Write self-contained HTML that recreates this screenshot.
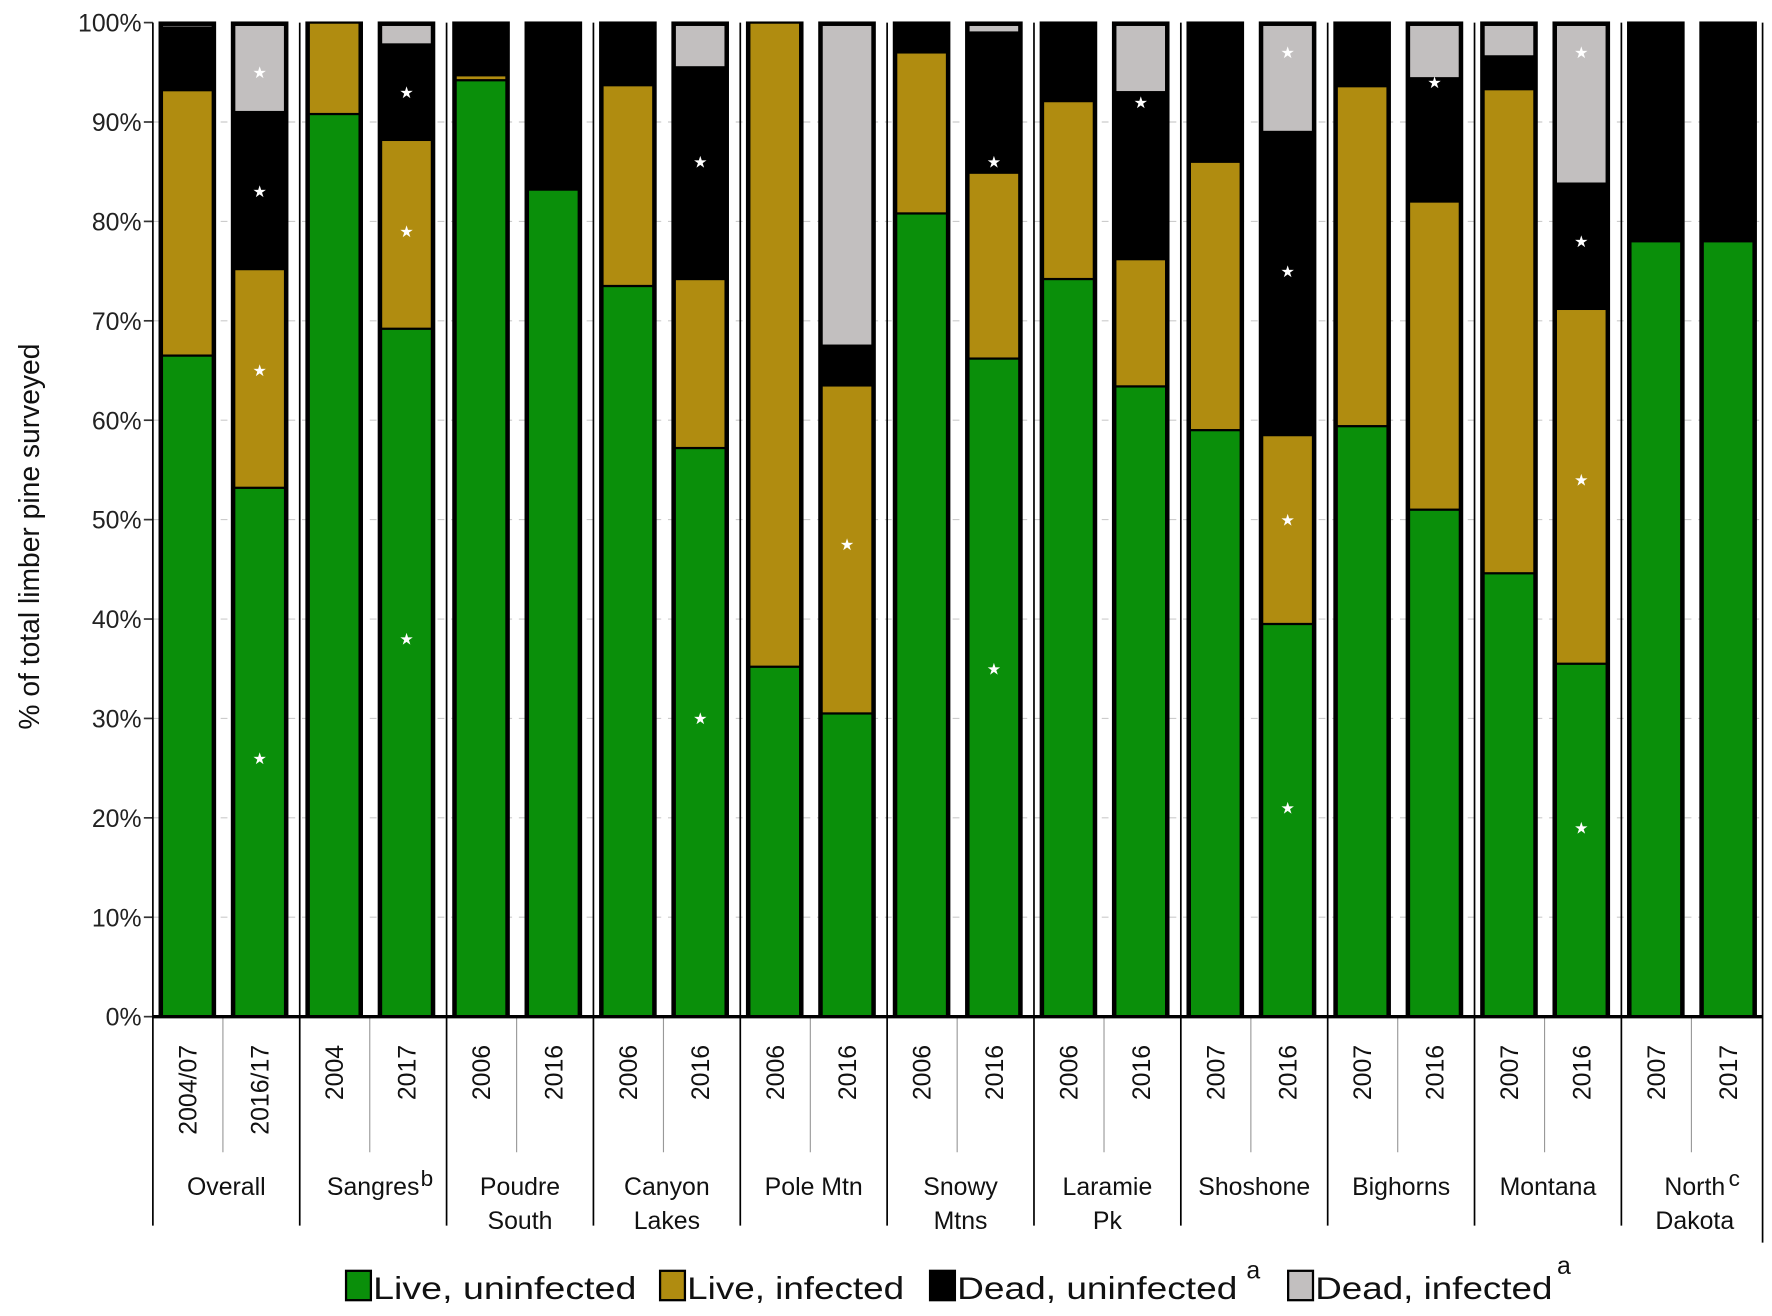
<!DOCTYPE html>
<html><head><meta charset="utf-8"><style>
html,body{margin:0;padding:0;background:#fff;}
svg{display:block;font-family:"Liberation Sans",sans-serif;}
</style></head><body>
<svg id="chart" width="1772" height="1316" viewBox="0 0 1568 1165" xmlns="http://www.w3.org/2000/svg">
<g id="grid"></g>
<g id="bars"></g>
<g id="axes"></g>
<text transform="translate(34,475) rotate(-90)" text-anchor="middle" font-size="25" fill="#111">% of total limber pine surveyed</text>
<g font-size="28" fill="#111">
 <g><rect x="306" y="1125" width="22" height="26" fill="#0a8f0a" stroke="#000" stroke-width="2"/><text x="330" y="1150" textLength="233" lengthAdjust="spacingAndGlyphs">Live, uninfected</text></g>
 <g><rect x="584" y="1125" width="22" height="26" fill="#b08c10" stroke="#000" stroke-width="2"/><text x="608" y="1150" textLength="192" lengthAdjust="spacingAndGlyphs">Live, infected</text></g>
 <g><rect x="823" y="1125" width="22" height="26" fill="#000" stroke="#000" stroke-width="2"/><text x="847" y="1150" textLength="248" lengthAdjust="spacingAndGlyphs">Dead, uninfected</text><text x="1103" y="1132" font-size="22">a</text></g>
 <g><rect x="1140" y="1125" width="22" height="26" fill="#c2bfbf" stroke="#000" stroke-width="2"/><text x="1164" y="1150" textLength="210" lengthAdjust="spacingAndGlyphs">Dead, infected</text><text x="1378" y="1128" font-size="22">a</text></g>
</g>
</svg>
<script>
const groups = ["Overall","Sangres","Poudre South","Canyon Lakes","Pole Mtn","Snowy Mtns","Laramie Pk","Shoshone","Bighorns","Montana","North Dakota"];
const years = ["2004/07","2016/17","2004","2017","2006","2016","2006","2016","2006","2016","2006","2016","2006","2016","2007","2016","2007","2016","2007","2016","2007","2017"];
const liveUninfected = [66.5,53.2,90.8,69.2,94.2,83.2,73.5,57.2,35.2,30.5,80.8,66.2,74.2,63.4,59,39.5,59.4,51,44.6,35.5,78,78];
const liveInfected   = [26.7,22,9.2,19,0.5,0,20.2,17,64.8,33,16.2,18.7,17.9,12.8,27,19,34.2,31,48.7,35.7,0,0];
const deadUninfected = [6.3,15.8,0,9.6,5.3,16.8,6.3,21.3,0,4,3,14.1,7.9,16.8,14,30.5,6.4,12.4,3.3,12.6,22,22];
const deadInfected   = [0.5,9,0,2.2,0,0,0,4.5,0,32.5,0,1,0,7,0,11,0,5.6,3.4,16.2,0,0];
const yTicks = [0,10,20,30,40,50,60,70,80,90,100];
const starBars = [1,1,1,1,3,3,3,7,7,9,11,11,13,15,15,15,15,17,19,19,19,19];
const starVals = [26,65,83,95,38,79,93,30,86,47.5,86,35,92,97,21,50,75,94,97,19,54,78];

const NS="http://www.w3.org/2000/svg";
const y0=900, y1=20, left=135, gw=130;
const yScale=v=>y0-(y0-y1)*v/100;
const barX=i=>left+Math.floor(i/2)*gw+(i%2? 70:6);
const bw=49;
function mk(tag,attrs,parent){const e=document.createElementNS(NS,tag);for(const k in attrs)e.setAttribute(k,attrs[k]);parent.appendChild(e);return e;}
const grid=document.getElementById('grid'), bars=document.getElementById('bars'), axes=document.getElementById('axes');
yTicks.forEach(t=>{
  if(t>0&&t<100){const l=mk('line',{x1:left,x2:1558,y1:yScale(t),y2:yScale(t),stroke:'#ccc','stroke-dasharray':'6 6','stroke-width':1},grid);
  
  }
  const tk=mk('line',{x1:left-8,x2:left,y1:yScale(t),y2:yScale(t),stroke:'#333','stroke-width':1.5},axes);
  
  
  const tx=mk('text',{x:left-10,y:yScale(t)+8,'text-anchor':'end','font-size':22,fill:'#222'},axes);
  tx.textContent=t+'%';
  
  
});
const series=[[liveUninfected,'#0a8f0a'],[liveInfected,'#b08c10'],[deadUninfected,'#000'],[deadInfected,'#c2bfbf']];
const names=['live-uninfected','live-infected','dead-uninfected','dead-infected'];
years.forEach((yr,i)=>{
  const bg=mk('rect',{x:barX(i),y:y1,width:bw,height:y0-y1,fill:'#000',stroke:'#000','stroke-width':2},bars);
  
  
  let cum=0;
  series.forEach(([arr,col],s)=>{
    const v=arr[i]; if(v<=0){return;}
    const top=Math.min(100,cum+v);
    const r=mk('rect',{x:barX(i)+3,y:yScale(top)+(s==3?3:1),width:bw-6,height:Math.max(0,yScale(cum)-yScale(top)-(s==3?4:2)),fill:col},bars);
    
    
    cum=top;
  });
  const yl=mk('text',{transform:`translate(${barX(i)+bw/2+8},925) rotate(-90)`,'text-anchor':'end','font-size':22,fill:'#111'},axes);
  yl.textContent=yr;
  
  
  if(i%2===1){const d=mk('line',{x1:barX(i)-8,x2:barX(i)-8,y1:y0,y2:1020,stroke:'#999','stroke-width':1},axes);
  
  }
});
starBars.forEach((b,k)=>{
  const s=mk('text',{x:barX(b)+bw/2,y:yScale(starVals[k])+5,'text-anchor':'middle','font-size':14,fill:'#fff'},bars);
  s.textContent='★';
  
  
});
groups.forEach((g,j)=>{
  const gx=left+j*gw;
  const sep=mk('line',{x1:gx,x2:gx,y1:y1,y2:1085,stroke:'#000','stroke-width':1.5},axes);
  
  
  const parts=g==='Overall'||g==='Sangres'||g==='Pole Mtn'||g==='Shoshone'||g==='Bighorns'||g==='Montana'?[g]:g.split(' ');
  parts.forEach((p,k)=>{
    const t=mk('text',{x:gx+gw/2,y:1058+k*30,'text-anchor':'middle','font-size':22,fill:'#111'},axes);
    t.textContent=p;
    
    
  });
});
const endSep=mk('line',{x1:1560,x2:1560,y1:y1,y2:1100,stroke:'#000','stroke-width':1.5},axes);


const base=mk('line',{x1:left,x2:1560,y1:y0,y2:y0,stroke:'#000','stroke-width':3},axes);


[['b',372,1050],['c',1530,1050]].forEach(([c,x,y])=>{
  const t=mk('text',{x:x,y:y,'font-size':20,fill:'#111'},axes);
  t.textContent=c;
  
  
});
</script>
</body></html>
